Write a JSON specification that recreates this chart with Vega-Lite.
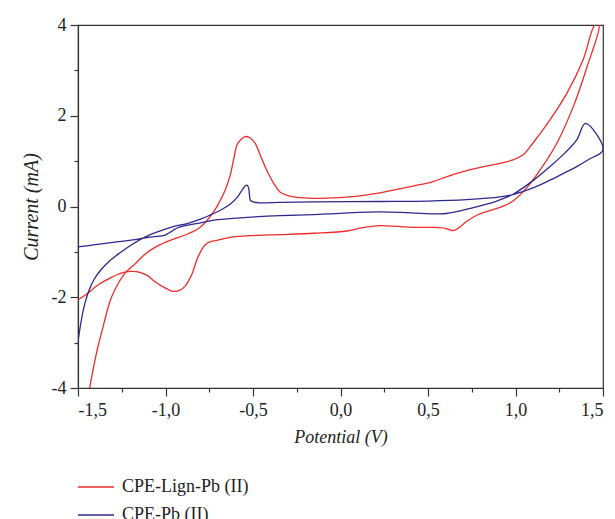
{
  "$schema": "https://vega.github.io/schema/vega-lite/v6.json",
  "width": 525,
  "height": 363,
  "autosize": {"type": "none"},
  "padding": {"left": 78, "top": 25, "right": 12, "bottom": 131},
  "background": "white",
  "config": {
    "view": {"stroke": "#333333", "strokeWidth": 1.2},
    "axis": {"labelFont": "Liberation Serif", "titleFont": "Liberation Serif", "labelColor": "#222222", "titleColor": "#222222", "domainColor": "#333333", "tickColor": "#333333", "domainWidth": 1.2, "tickWidth": 1.2, "grid": false}
  },
  "data": {"values": [
    {"s": "CPE-Lign-Pb (II)", "o": 1, "x": -1.5, "y": -2.06},
    {"s": "CPE-Lign-Pb (II)", "o": 2, "x": -1.45, "y": -1.93},
    {"s": "CPE-Lign-Pb (II)", "o": 3, "x": -1.386, "y": -1.73},
    {"s": "CPE-Lign-Pb (II)", "o": 4, "x": -1.317, "y": -1.58},
    {"s": "CPE-Lign-Pb (II)", "o": 5, "x": -1.254, "y": -1.47},
    {"s": "CPE-Lign-Pb (II)", "o": 6, "x": -1.2, "y": -1.43},
    {"s": "CPE-Lign-Pb (II)", "o": 7, "x": -1.146, "y": -1.45},
    {"s": "CPE-Lign-Pb (II)", "o": 8, "x": -1.1, "y": -1.53},
    {"s": "CPE-Lign-Pb (II)", "o": 9, "x": -1.06, "y": -1.66},
    {"s": "CPE-Lign-Pb (II)", "o": 10, "x": -1.0, "y": -1.8},
    {"s": "CPE-Lign-Pb (II)", "o": 11, "x": -0.957, "y": -1.87},
    {"s": "CPE-Lign-Pb (II)", "o": 12, "x": -0.92, "y": -1.85},
    {"s": "CPE-Lign-Pb (II)", "o": 13, "x": -0.889, "y": -1.76},
    {"s": "CPE-Lign-Pb (II)", "o": 14, "x": -0.85, "y": -1.5},
    {"s": "CPE-Lign-Pb (II)", "o": 15, "x": -0.814, "y": -1.11},
    {"s": "CPE-Lign-Pb (II)", "o": 16, "x": -0.774, "y": -0.85},
    {"s": "CPE-Lign-Pb (II)", "o": 17, "x": -0.74, "y": -0.77},
    {"s": "CPE-Lign-Pb (II)", "o": 18, "x": -0.7, "y": -0.74},
    {"s": "CPE-Lign-Pb (II)", "o": 19, "x": -0.631, "y": -0.68},
    {"s": "CPE-Lign-Pb (II)", "o": 20, "x": -0.5, "y": -0.64},
    {"s": "CPE-Lign-Pb (II)", "o": 21, "x": -0.346, "y": -0.62},
    {"s": "CPE-Lign-Pb (II)", "o": 22, "x": -0.15, "y": -0.59},
    {"s": "CPE-Lign-Pb (II)", "o": 23, "x": 0.037, "y": -0.54},
    {"s": "CPE-Lign-Pb (II)", "o": 24, "x": 0.12, "y": -0.47},
    {"s": "CPE-Lign-Pb (II)", "o": 25, "x": 0.226, "y": -0.42},
    {"s": "CPE-Lign-Pb (II)", "o": 26, "x": 0.33, "y": -0.44},
    {"s": "CPE-Lign-Pb (II)", "o": 27, "x": 0.414, "y": -0.46},
    {"s": "CPE-Lign-Pb (II)", "o": 28, "x": 0.54, "y": -0.46},
    {"s": "CPE-Lign-Pb (II)", "o": 29, "x": 0.6, "y": -0.48},
    {"s": "CPE-Lign-Pb (II)", "o": 30, "x": 0.643, "y": -0.53},
    {"s": "CPE-Lign-Pb (II)", "o": 31, "x": 0.68, "y": -0.46},
    {"s": "CPE-Lign-Pb (II)", "o": 32, "x": 0.72, "y": -0.33},
    {"s": "CPE-Lign-Pb (II)", "o": 33, "x": 0.797, "y": -0.16},
    {"s": "CPE-Lign-Pb (II)", "o": 34, "x": 0.911, "y": -0.02},
    {"s": "CPE-Lign-Pb (II)", "o": 35, "x": 0.986, "y": 0.12},
    {"s": "CPE-Lign-Pb (II)", "o": 36, "x": 1.066, "y": 0.42},
    {"s": "CPE-Lign-Pb (II)", "o": 37, "x": 1.14, "y": 0.8},
    {"s": "CPE-Lign-Pb (II)", "o": 38, "x": 1.237, "y": 1.4},
    {"s": "CPE-Lign-Pb (II)", "o": 39, "x": 1.329, "y": 2.19},
    {"s": "CPE-Lign-Pb (II)", "o": 40, "x": 1.409, "y": 3.08},
    {"s": "CPE-Lign-Pb (II)", "o": 41, "x": 1.477, "y": 4.0},
    {"s": "CPE-Lign-Pb (II)", "o": 42, "x": 1.454, "y": 4.0},
    {"s": "CPE-Lign-Pb (II)", "o": 43, "x": 1.386, "y": 3.23},
    {"s": "CPE-Lign-Pb (II)", "o": 44, "x": 1.294, "y": 2.5},
    {"s": "CPE-Lign-Pb (II)", "o": 45, "x": 1.197, "y": 1.91},
    {"s": "CPE-Lign-Pb (II)", "o": 46, "x": 1.1, "y": 1.4},
    {"s": "CPE-Lign-Pb (II)", "o": 47, "x": 1.04, "y": 1.13},
    {"s": "CPE-Lign-Pb (II)", "o": 48, "x": 0.98, "y": 1.02},
    {"s": "CPE-Lign-Pb (II)", "o": 49, "x": 0.911, "y": 0.95},
    {"s": "CPE-Lign-Pb (II)", "o": 50, "x": 0.82, "y": 0.88},
    {"s": "CPE-Lign-Pb (II)", "o": 51, "x": 0.72, "y": 0.79},
    {"s": "CPE-Lign-Pb (II)", "o": 52, "x": 0.609, "y": 0.66},
    {"s": "CPE-Lign-Pb (II)", "o": 53, "x": 0.529, "y": 0.55},
    {"s": "CPE-Lign-Pb (II)", "o": 54, "x": 0.414, "y": 0.45},
    {"s": "CPE-Lign-Pb (II)", "o": 55, "x": 0.3, "y": 0.36},
    {"s": "CPE-Lign-Pb (II)", "o": 56, "x": 0.226, "y": 0.3},
    {"s": "CPE-Lign-Pb (II)", "o": 57, "x": 0.1, "y": 0.23},
    {"s": "CPE-Lign-Pb (II)", "o": 58, "x": -0.05, "y": 0.19},
    {"s": "CPE-Lign-Pb (II)", "o": 59, "x": -0.157, "y": 0.18},
    {"s": "CPE-Lign-Pb (II)", "o": 60, "x": -0.249, "y": 0.2},
    {"s": "CPE-Lign-Pb (II)", "o": 61, "x": -0.3, "y": 0.24},
    {"s": "CPE-Lign-Pb (II)", "o": 62, "x": -0.346, "y": 0.32},
    {"s": "CPE-Lign-Pb (II)", "o": 63, "x": -0.38, "y": 0.5},
    {"s": "CPE-Lign-Pb (II)", "o": 64, "x": -0.414, "y": 0.74},
    {"s": "CPE-Lign-Pb (II)", "o": 65, "x": -0.45, "y": 1.05},
    {"s": "CPE-Lign-Pb (II)", "o": 66, "x": -0.489, "y": 1.4},
    {"s": "CPE-Lign-Pb (II)", "o": 67, "x": -0.52, "y": 1.52},
    {"s": "CPE-Lign-Pb (II)", "o": 68, "x": -0.546, "y": 1.54},
    {"s": "CPE-Lign-Pb (II)", "o": 69, "x": -0.57, "y": 1.47},
    {"s": "CPE-Lign-Pb (II)", "o": 70, "x": -0.591, "y": 1.36},
    {"s": "CPE-Lign-Pb (II)", "o": 71, "x": -0.61, "y": 1.05},
    {"s": "CPE-Lign-Pb (II)", "o": 72, "x": -0.631, "y": 0.68},
    {"s": "CPE-Lign-Pb (II)", "o": 73, "x": -0.66, "y": 0.35},
    {"s": "CPE-Lign-Pb (II)", "o": 74, "x": -0.689, "y": 0.12},
    {"s": "CPE-Lign-Pb (II)", "o": 75, "x": -0.729, "y": -0.14},
    {"s": "CPE-Lign-Pb (II)", "o": 76, "x": -0.8, "y": -0.45},
    {"s": "CPE-Lign-Pb (II)", "o": 77, "x": -0.87, "y": -0.6},
    {"s": "CPE-Lign-Pb (II)", "o": 78, "x": -0.969, "y": -0.74},
    {"s": "CPE-Lign-Pb (II)", "o": 79, "x": -1.05, "y": -0.88},
    {"s": "CPE-Lign-Pb (II)", "o": 80, "x": -1.117, "y": -1.05},
    {"s": "CPE-Lign-Pb (II)", "o": 81, "x": -1.17, "y": -1.25},
    {"s": "CPE-Lign-Pb (II)", "o": 82, "x": -1.231, "y": -1.47},
    {"s": "CPE-Lign-Pb (II)", "o": 83, "x": -1.29, "y": -1.84},
    {"s": "CPE-Lign-Pb (II)", "o": 84, "x": -1.32, "y": -2.12},
    {"s": "CPE-Lign-Pb (II)", "o": 85, "x": -1.35, "y": -2.55},
    {"s": "CPE-Lign-Pb (II)", "o": 86, "x": -1.386, "y": -3.09},
    {"s": "CPE-Lign-Pb (II)", "o": 87, "x": -1.41, "y": -3.52},
    {"s": "CPE-Lign-Pb (II)", "o": 88, "x": -1.433, "y": -4.0},
    {"s": "CPE-Pb (II)", "o": 1, "x": -1.5, "y": -2.98},
    {"s": "CPE-Pb (II)", "o": 2, "x": -1.485, "y": -2.6},
    {"s": "CPE-Pb (II)", "o": 3, "x": -1.465, "y": -2.2},
    {"s": "CPE-Pb (II)", "o": 4, "x": -1.44, "y": -1.88},
    {"s": "CPE-Pb (II)", "o": 5, "x": -1.41, "y": -1.62},
    {"s": "CPE-Pb (II)", "o": 6, "x": -1.37, "y": -1.4},
    {"s": "CPE-Pb (II)", "o": 7, "x": -1.32, "y": -1.2},
    {"s": "CPE-Pb (II)", "o": 8, "x": -1.26, "y": -1.02},
    {"s": "CPE-Pb (II)", "o": 9, "x": -1.2, "y": -0.86},
    {"s": "CPE-Pb (II)", "o": 10, "x": -1.14, "y": -0.72},
    {"s": "CPE-Pb (II)", "o": 11, "x": -1.08, "y": -0.61},
    {"s": "CPE-Pb (II)", "o": 12, "x": -1.026, "y": -0.53},
    {"s": "CPE-Pb (II)", "o": 13, "x": -0.95, "y": -0.44},
    {"s": "CPE-Pb (II)", "o": 14, "x": -0.871, "y": -0.37},
    {"s": "CPE-Pb (II)", "o": 15, "x": -0.8, "y": -0.28},
    {"s": "CPE-Pb (II)", "o": 16, "x": -0.74, "y": -0.18},
    {"s": "CPE-Pb (II)", "o": 17, "x": -0.7, "y": -0.11},
    {"s": "CPE-Pb (II)", "o": 18, "x": -0.631, "y": 0.05},
    {"s": "CPE-Pb (II)", "o": 19, "x": -0.59, "y": 0.2},
    {"s": "CPE-Pb (II)", "o": 20, "x": -0.563, "y": 0.36},
    {"s": "CPE-Pb (II)", "o": 21, "x": -0.545, "y": 0.45},
    {"s": "CPE-Pb (II)", "o": 22, "x": -0.534, "y": 0.47},
    {"s": "CPE-Pb (II)", "o": 23, "x": -0.525, "y": 0.41},
    {"s": "CPE-Pb (II)", "o": 24, "x": -0.52, "y": 0.25},
    {"s": "CPE-Pb (II)", "o": 25, "x": -0.515, "y": 0.14},
    {"s": "CPE-Pb (II)", "o": 26, "x": -0.5, "y": 0.1},
    {"s": "CPE-Pb (II)", "o": 27, "x": -0.46, "y": 0.08},
    {"s": "CPE-Pb (II)", "o": 28, "x": -0.346, "y": 0.09},
    {"s": "CPE-Pb (II)", "o": 29, "x": -0.157, "y": 0.1},
    {"s": "CPE-Pb (II)", "o": 30, "x": 0.226, "y": 0.11},
    {"s": "CPE-Pb (II)", "o": 31, "x": 0.5, "y": 0.12},
    {"s": "CPE-Pb (II)", "o": 32, "x": 0.72, "y": 0.15},
    {"s": "CPE-Pb (II)", "o": 33, "x": 0.911, "y": 0.21},
    {"s": "CPE-Pb (II)", "o": 34, "x": 1.0, "y": 0.28},
    {"s": "CPE-Pb (II)", "o": 35, "x": 1.1, "y": 0.41},
    {"s": "CPE-Pb (II)", "o": 36, "x": 1.197, "y": 0.58},
    {"s": "CPE-Pb (II)", "o": 37, "x": 1.294, "y": 0.77},
    {"s": "CPE-Pb (II)", "o": 38, "x": 1.35, "y": 0.88},
    {"s": "CPE-Pb (II)", "o": 39, "x": 1.42, "y": 1.04},
    {"s": "CPE-Pb (II)", "o": 40, "x": 1.5, "y": 1.25},
    {"s": "CPE-Pb (II)", "o": 41, "x": 1.4, "y": 1.83},
    {"s": "CPE-Pb (II)", "o": 42, "x": 1.35, "y": 1.47},
    {"s": "CPE-Pb (II)", "o": 43, "x": 1.28, "y": 1.17},
    {"s": "CPE-Pb (II)", "o": 44, "x": 1.197, "y": 0.88},
    {"s": "CPE-Pb (II)", "o": 45, "x": 1.1, "y": 0.57},
    {"s": "CPE-Pb (II)", "o": 46, "x": 0.986, "y": 0.27},
    {"s": "CPE-Pb (II)", "o": 47, "x": 0.9, "y": 0.13},
    {"s": "CPE-Pb (II)", "o": 48, "x": 0.814, "y": 0.03},
    {"s": "CPE-Pb (II)", "o": 49, "x": 0.7, "y": -0.08},
    {"s": "CPE-Pb (II)", "o": 50, "x": 0.586, "y": -0.16},
    {"s": "CPE-Pb (II)", "o": 51, "x": 0.4, "y": -0.14},
    {"s": "CPE-Pb (II)", "o": 52, "x": 0.226, "y": -0.12},
    {"s": "CPE-Pb (II)", "o": 53, "x": 0.0, "y": -0.15},
    {"s": "CPE-Pb (II)", "o": 54, "x": -0.157, "y": -0.18},
    {"s": "CPE-Pb (II)", "o": 55, "x": -0.346, "y": -0.2},
    {"s": "CPE-Pb (II)", "o": 56, "x": -0.534, "y": -0.24},
    {"s": "CPE-Pb (II)", "o": 57, "x": -0.7, "y": -0.29},
    {"s": "CPE-Pb (II)", "o": 58, "x": -0.8, "y": -0.36},
    {"s": "CPE-Pb (II)", "o": 59, "x": -0.917, "y": -0.45},
    {"s": "CPE-Pb (II)", "o": 60, "x": -0.946, "y": -0.5},
    {"s": "CPE-Pb (II)", "o": 61, "x": -0.97, "y": -0.56},
    {"s": "CPE-Pb (II)", "o": 62, "x": -1.003, "y": -0.63},
    {"s": "CPE-Pb (II)", "o": 63, "x": -1.1, "y": -0.68},
    {"s": "CPE-Pb (II)", "o": 64, "x": -1.174, "y": -0.73},
    {"s": "CPE-Pb (II)", "o": 65, "x": -1.3, "y": -0.79},
    {"s": "CPE-Pb (II)", "o": 66, "x": -1.4, "y": -0.84},
    {"s": "CPE-Pb (II)", "o": 67, "x": -1.5, "y": -0.89}
  ]},
  "layer": [
    {
      "mark": {"type": "line", "strokeWidth": 1.3, "clip": true, "interpolate": "catmull-rom"},
      "encoding": {
        "x": {"field": "x", "type": "quantitative", "scale": {"domain": [-1.5, 1.5], "nice": false},
          "axis": {"orient": "bottom", "values": [-1.5, -1, -0.5, 0, 0.5, 1, 1.5], "tickSize": 8, "labelFontSize": 18, "labelPadding": 5, "labelExpr": "replace(replace(format(datum.value, '.1f'), '.', ','), '\u2212', '-')", "title": "Potential (V)", "titleFontSize": 18, "titleFontStyle": "italic", "titleFontWeight": "normal", "titlePadding": 9}},
        "y": {"field": "y", "type": "quantitative", "scale": {"domain": [-4, 4], "nice": false},
          "axis": {"orient": "left", "values": [-4, -2, 0, 2, 4], "tickSize": 8, "labelFontSize": 18, "labelPadding": 4, "labelExpr": "replace(format(datum.value, 'd'), '\u2212', '-')", "title": "Current (mA)", "titleFontSize": 20, "titleFontStyle": "italic", "titleFontWeight": "normal", "titlePadding": 10}},
        "color": {"field": "s", "type": "nominal",
          "scale": {"domain": ["CPE-Lign-Pb (II)", "CPE-Pb (II)"], "range": ["#ef2b2b", "#30288f"]},
          "legend": {"title": null, "orient": "none", "legendX": -1, "legendY": 443, "symbolType": "stroke", "symbolSize": 1296, "symbolStrokeWidth": 1.3, "labelFont": "Liberation Serif", "labelFontSize": 18, "labelColor": "#222222", "labelOffset": 7, "rowPadding": -9, "padding": 0}},
        "order": {"field": "o", "type": "quantitative"}
      }
    },
    {
      "mark": {"type": "line", "opacity": 0},
      "encoding": {
        "x": {"field": "x", "type": "quantitative",
          "axis": {"orient": "bottom", "values": [-1.25, -0.75, -0.25, 0.25, 0.75, 1.25], "tickSize": 4, "labels": false, "domain": false, "title": null}},
        "y": {"field": "y", "type": "quantitative",
          "axis": {"orient": "left", "values": [-3, -1, 1, 3], "tickSize": 4, "labels": false, "domain": false, "title": null}},
        "order": {"field": "o", "type": "quantitative"}
      }
    }
  ],
  "resolve": {"axis": {"x": "independent", "y": "independent"}}
}
